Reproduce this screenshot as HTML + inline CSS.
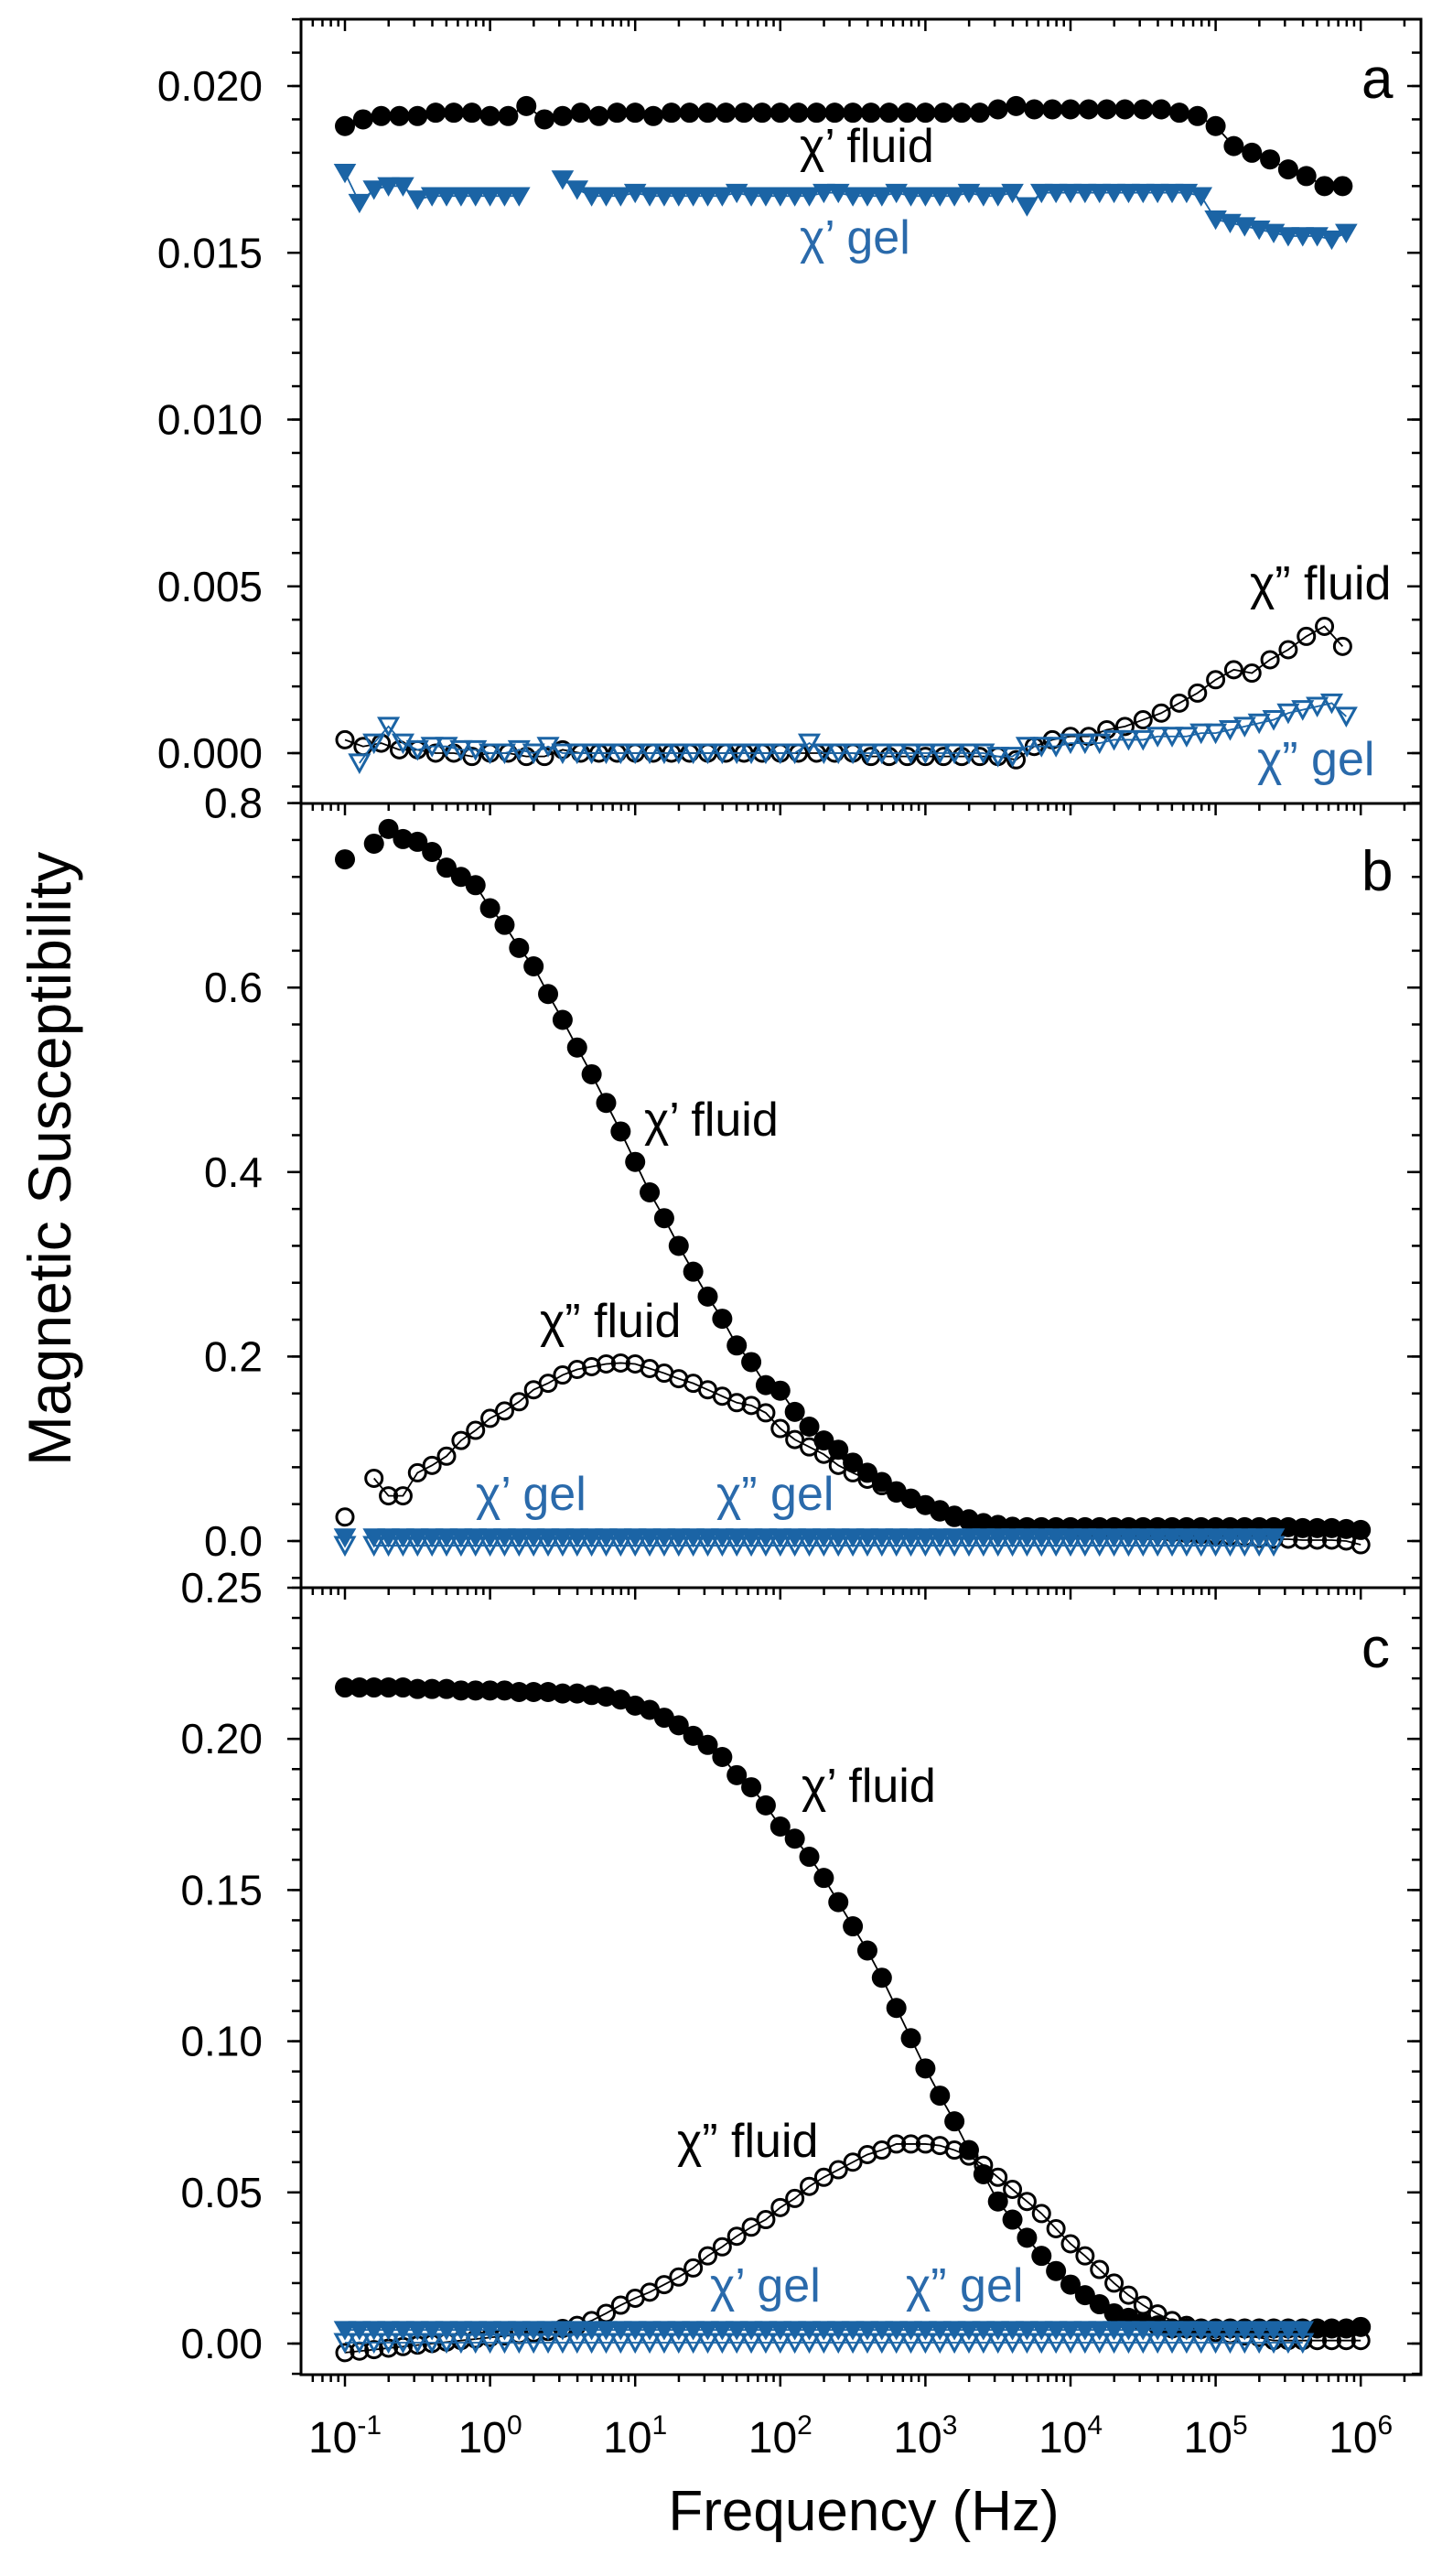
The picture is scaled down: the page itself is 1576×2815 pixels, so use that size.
<!DOCTYPE html>
<html><head><meta charset="utf-8"><style>
html,body{margin:0;padding:0;background:#fff;}
svg{display:block;font-family:"Liberation Sans",Arial,sans-serif;}
</style></head><body>
<svg id="chart" width="1576" height="2815" viewBox="0 0 1576 2815" xmlns="http://www.w3.org/2000/svg">
<rect x="0" y="0" width="1576" height="2815" fill="#fff"/>
<g id="axes"></g>
<g id="marks"></g>
<g id="labels" font-size="52">
  <text x="1488" y="107" font-size="62">a</text>
  <text x="1488" y="973" font-size="62">b</text>
  <text x="1488" y="1822" font-size="62">c</text>
  <text x="874" y="177">χ’ fluid</text>
  <text x="874" y="277" fill="#2a6aab">χ’ gel</text>
  <text x="1366" y="655">χ” fluid</text>
  <text x="1374" y="847" fill="#2a6aab">χ” gel</text>
  <text x="704" y="1241">χ’ fluid</text>
  <text x="590" y="1461">χ” fluid</text>
  <text x="520" y="1650" fill="#2a6aab">χ’ gel</text>
  <text x="783" y="1650" fill="#2a6aab">χ” gel</text>
  <text x="876" y="1969">χ’ fluid</text>
  <text x="740" y="2357">χ” fluid</text>
  <text x="776" y="2515" fill="#2a6aab">χ’ gel</text>
  <text x="990" y="2515" fill="#2a6aab">χ” gel</text>
  <text x="944" y="2765" font-size="62" text-anchor="middle">Frequency (Hz)</text>
  <text transform="translate(77,1602) rotate(-90)" font-size="66">Magnetic Susceptibility</text>
</g>
</svg>
<script>
// frequency grids (log10 Hz)
const expGrid = [-1.0,-0.9,-0.8,-0.7,-0.6,-0.5,-0.4,-0.3,-0.2,-0.1,0.0,0.1,0.2,0.3,0.4,0.5,0.6,0.7,0.8,0.9,1.0,1.1,1.2,1.3,1.4,1.5,1.6,1.7,1.8,1.9,2.0,2.1,2.2,2.3,2.4,2.5,2.6,2.7,2.8,2.9,3.0,3.1,3.2,3.3,3.4,3.5,3.6,3.7,3.8,3.9,4.0,4.1,4.2,4.3,4.4,4.5,4.6,4.7,4.8,4.9,5.0,5.1,5.2,5.3,5.4,5.5,5.6,5.7,5.8,5.9,6.0];
const expA = [-1.0,-0.875,-0.75,-0.625,-0.5,-0.375,-0.25,-0.125,0.0,0.125,0.25,0.375,0.5,0.625,0.75,0.875,1.0,1.125,1.25,1.375,1.5,1.625,1.75,1.875,2.0,2.125,2.25,2.375,2.5,2.625,2.75,2.875,3.0,3.125,3.25,3.375,3.5,3.625,3.75,3.875,4.0,4.125,4.25,4.375,4.5,4.625,4.75,4.875,5.0,5.125,5.25,5.375,5.5,5.625,5.75,5.875];

// Panel a
const aFluidP = [0.0188,0.0190,0.0191,0.0191,0.0191,0.0192,0.0192,0.0192,0.0191,0.0191,
0.0194,0.0190,0.0191,0.0192,0.0191,0.0192,0.0192,0.0191,0.0192,0.0192,
0.0192,0.0192,0.0192,0.0192,0.0192,0.0192,0.0192,0.0192,0.0192,0.0192,
0.0192,0.0192,0.0192,0.0192,0.0192,0.0192,0.0193,0.0194,0.0193,0.0193,
0.0193,0.0193,0.0193,0.0193,0.0193,0.0193,0.0192,0.0191,0.0188,0.0182,
0.0180,0.0178,0.0175,0.0173,0.0170,0.0170];
const aFluidPP = [0.0004,0.0002,0.0003,0.0001,0.0001,0.0000,0.0000,-0.0001,0.0000,0.0000,
-0.0001,-0.0001,0.0001,0.0000,0.0000,0.0000,0.0000,0.0000,0.0000,0.0000,
0.0000,0.0000,0.0000,0.0000,0.0000,0.0000,0.0000,0.0000,0.0000,-0.0001,
-0.0001,-0.0001,-0.0001,-0.0001,-0.0001,-0.0001,-0.0001,-0.0002,0.0002,0.0004,
0.0005,0.0005,0.0007,0.0008,0.0010,0.0012,0.0015,0.0018,0.0022,0.0025,
0.0024,0.0028,0.0031,0.0035,0.0038,0.0032];
const aGelP = [0.0174,0.0165,0.0169,0.0170,0.0170,0.0166,0.0167,0.0167,0.0167,0.0167,
0.0167,0.0167,0.0167,null,null,0.0172,0.0169,0.0167,0.0167,0.0167,
0.0168,0.0167,0.0167,0.0167,0.0167,0.0167,0.0167,0.0168,0.0167,0.0167,
0.0167,0.0167,0.0167,0.0168,0.0168,0.0167,0.0167,0.0167,0.0168,0.0167,
0.0167,0.0167,0.0167,0.0168,0.0167,0.0167,0.0168,0.0164,0.0168,0.0168,
0.0168,0.0168,0.0168,0.0168,0.0168,0.0168,0.0168,0.0168,0.0168,0.0167,
0.0160,0.0159,0.0158,0.0157,0.0156,0.0155,0.0155,0.0155,0.0154,0.0156,null];
const aGelPP = [null,-0.0003,0.0003,0.0008,0.0003,0.0001,0.0002,0.0002,0.0001,0.0001,
0.0000,0.0000,0.0001,0.0000,0.0002,0.0000,0.0000,0.0000,0.0000,0.0000,
0.0000,0.0000,0.0000,0.0000,0.0000,0.0000,0.0000,0.0000,0.0000,0.0000,
0.0000,0.0000,0.0003,0.0000,0.0000,0.0000,0.0000,0.0000,0.0000,0.0000,
0.0000,0.0000,0.0000,0.0000,0.0000,-0.0001,-0.0001,0.0002,0.0002,0.0002,
0.0003,0.0003,0.0003,0.0004,0.0004,0.0004,0.0005,0.0005,0.0005,0.0006,
0.0006,0.0007,0.0008,0.0009,0.0010,0.0012,0.0013,0.0014,0.0015,0.0011,null];

// Panel b
const bFluidP = [0.739,null,0.756,0.772,0.761,0.758,0.747,0.730,0.720,0.711,
0.686,0.668,0.643,0.623,0.593,0.565,0.535,0.506,0.475,0.444,
0.411,0.378,0.350,0.320,0.292,0.265,0.241,0.212,0.194,0.169,
0.163,0.140,0.124,0.109,0.099,0.085,0.074,0.064,0.054,0.046,
0.039,0.032,0.026,0.022,0.018,0.016,0.015,0.015,0.015,0.015,
0.015,0.015,0.015,0.015,0.015,0.015,0.015,0.015,0.015,0.015,
0.015,0.015,0.015,0.015,0.015,0.015,0.014,0.014,0.014,0.013,0.012];
const bFluidPP = [0.026,null,0.068,0.049,0.049,0.074,0.082,0.092,0.109,0.120,
0.133,0.141,0.151,0.164,0.171,0.180,0.186,0.189,0.192,0.193,
0.192,0.187,0.182,0.176,0.171,0.164,0.157,0.150,0.147,0.139,
0.122,0.110,0.102,0.094,0.082,0.074,0.067,0.060,0.052,0.046,
0.039,0.034,0.028,0.024,0.020,0.018,0.016,0.015,0.014,0.013,
0.013,0.012,0.012,0.011,0.011,0.010,0.010,0.009,0.008,0.007,
0.006,0.005,0.004,0.003,0.002,0.002,0.001,0.001,0.001,0.000,-0.004];
const bGelP = [0.004,null,0.004,0.004,0.004,0.004,0.004,0.004,0.004,0.004,
0.004,0.004,0.004,0.004,0.004,0.004,0.004,0.004,0.004,0.004,
0.004,0.004,0.004,0.004,0.004,0.004,0.004,0.004,0.004,0.004,
0.004,0.004,0.004,0.004,0.004,0.004,0.004,0.004,0.004,0.004,
0.004,0.004,0.004,0.004,0.004,0.004,0.004,0.004,0.004,0.004,
0.004,0.004,0.004,0.004,0.004,0.004,0.004,0.004,0.004,0.004,
0.004,0.004,0.004,0.004,0.004,null,null,null,null,null,null];
const bGelPP = [-0.005,null,-0.005,-0.005,-0.005,-0.005,-0.005,-0.005,-0.005,-0.005,
-0.005,-0.005,-0.005,-0.005,-0.005,-0.005,-0.005,-0.005,-0.005,-0.005,
-0.005,-0.005,-0.005,-0.005,-0.005,-0.005,-0.005,-0.005,-0.005,-0.005,
-0.005,-0.005,-0.005,-0.005,-0.005,-0.005,-0.005,-0.005,-0.005,-0.005,
-0.005,-0.005,-0.005,-0.005,-0.005,-0.005,-0.005,-0.005,-0.005,-0.005,
-0.005,-0.005,-0.005,-0.005,-0.005,-0.005,-0.005,-0.005,-0.005,-0.005,
-0.005,-0.005,-0.005,-0.005,-0.005,null,null,null,null,null,null];

// Panel c
const cFluidP = [0.217,0.217,0.217,0.217,0.217,0.2165,0.2165,0.2165,0.216,0.216,
0.216,0.216,0.2155,0.2155,0.2155,0.215,0.215,0.2145,0.214,0.213,
0.211,0.2096,0.207,0.2045,0.201,0.198,0.194,0.188,0.184,0.178,
0.171,0.167,0.161,0.154,0.146,0.138,0.130,0.121,0.111,0.101,
0.091,0.082,0.0735,0.064,0.056,0.047,0.041,0.035,0.029,0.024,
0.0195,0.016,0.013,0.010,0.0085,0.007,0.006,0.005,0.005,0.005,
0.005,0.005,0.005,0.005,0.005,0.005,0.005,0.005,0.005,0.005,0.0055];
const cFluidPP = [-0.003,-0.0025,-0.002,-0.0015,-0.001,-0.0005,0.0,0.0005,0.001,0.0015,
0.002,0.0025,0.003,0.0035,0.004,0.005,0.006,0.0076,0.010,0.0127,
0.015,0.017,0.0195,0.022,0.025,0.029,0.032,0.0355,0.0385,0.041,
0.045,0.048,0.052,0.055,0.0575,0.060,0.0625,0.064,0.066,0.066,
0.066,0.0655,0.064,0.062,0.059,0.055,0.051,0.047,0.043,0.038,
0.033,0.029,0.0245,0.020,0.016,0.0127,0.0098,0.0076,0.006,0.0047,
0.0037,0.003,0.0025,0.002,0.001,0.001,0.001,0.001,0.001,0.001,0.001];
const cGelP = [0.0045,0.0045,0.0045,0.0045,0.0045,0.0045,0.0045,0.0045,0.0045,0.0045,
0.0045,0.0045,0.0045,0.0045,0.0045,0.0045,0.0045,0.0045,0.0045,0.0045,
0.0045,0.0045,0.0045,0.0045,0.0045,0.0045,0.0045,0.0045,0.0045,0.0045,
0.0045,0.0045,0.0045,0.0045,0.0045,0.0045,0.0045,0.0045,0.0045,0.0045,
0.0045,0.0045,0.0045,0.0045,0.0045,0.0045,0.0045,0.0045,0.0045,0.0045,
0.0045,0.0045,0.0045,0.0045,0.0045,0.0045,0.0045,0.0045,0.0045,0.0045,
0.0045,0.0045,0.0045,0.0045,0.0045,0.0045,0.0045,null,null,null,null];
const cGelPP = [0.0003,0.0003,0.0003,0.0003,0.0003,0.0003,0.0003,0.0003,0.0003,0.0003,
0.0003,0.0003,0.0003,0.0003,0.0003,0.0003,0.0003,0.0003,0.0003,0.0003,
0.0003,0.0003,0.0003,0.0003,0.0003,0.0003,0.0003,0.0003,0.0003,0.0003,
0.0003,0.0003,0.0003,0.0003,0.0003,0.0003,0.0003,0.0003,0.0003,0.0003,
0.0003,0.0003,0.0003,0.0003,0.0003,0.0003,0.0003,0.0003,0.0003,0.0003,
0.0003,0.0003,0.0003,0.0003,0.0003,0.0003,0.0003,0.0003,0.0003,0.0003,
0.0003,0.0003,0.0003,0.0003,0.0003,0.0003,0.0003,null,null,null,null];

// tick labels
const aTicks = [0.000,0.005,0.010,0.015,0.020];
const aTickLabels = ["0.000","0.005","0.010","0.015","0.020"];
const bTicks = [0.0,0.2,0.4,0.6,0.8];
const bTickLabels = ["0.0","0.2","0.4","0.6","0.8"];
const cTicks = [0.00,0.05,0.10,0.15,0.20,0.25];
const cTickLabels = ["0.00","0.05","0.10","0.15","0.20","0.25"];
const xDecades = [-1,0,1,2,3,4,5,6];
const xDecadeLabels = ["-1","0","1","2","3","4","5","6"];

const NS = "http://www.w3.org/2000/svg";
const BLUE = "#1b64a5";
const XL = 329, XR = 1553;
function xScale(e){ return 377 + (e + 1) * 158.6; }
const panels = [
  {id:"a", top:21, bot:878, y0:823, k:36450, ticks:aTicks, labels:aTickLabels, minor:0.001, minLo:-0.001, minHi:0.022},
  {id:"b", top:878, bot:1735, y0:1684, k:1008, ticks:bTicks, labels:bTickLabels, minor:0.04, minLo:-0.04, minHi:0.8},
  {id:"c", top:1735, bot:2595, y0:2561, k:3304, ticks:cTicks, labels:cTickLabels, minor:0.01, minLo:-0.01, minHi:0.25}
];
function yScale(p, v){ return p.y0 - v * p.k; }
function mk(tag, attrs, parent){ const el = document.createElementNS(NS, tag); for (const a in attrs) el.setAttribute(a, attrs[a]); parent.appendChild(el); return el; }

const axes = document.getElementById("axes");
const marks = document.getElementById("marks");

panels.forEach(p => {
  const frame = mk("rect", {x:XL, y:p.top, width:XR-XL, height:p.bot-p.top, fill:"none", stroke:"#000", "stroke-width":3}, axes);
  
  
  const n = Math.round((p.minHi - p.minLo) / p.minor);
  for (let i = 0; i <= n; i++) {
    const v = p.minLo + i * p.minor;
    const y = yScale(p, v);
    if (y < p.top - 0.5 || y > p.bot + 0.5) continue;
    mk("line", {x1:XL-10, x2:XL, y1:y, y2:y, stroke:"#000", "stroke-width":2.5}, axes);
    mk("line", {x1:XR-10, x2:XR, y1:y, y2:y, stroke:"#000", "stroke-width":2.5}, axes);
  }
  p.ticks.forEach((v, i) => {
    const y = yScale(p, v);
    mk("line", {x1:XL-15, x2:XL, y1:y, y2:y, stroke:"#000", "stroke-width":2.5}, axes);
    mk("line", {x1:XR-15, x2:XR, y1:y, y2:y, stroke:"#000", "stroke-width":2.5}, axes);
    const t = mk("text", {x:287, y:y+16, "text-anchor":"end", "font-size":46}, axes);
    t.textContent = p.labels[i];
    
    
  });
  drawXTicks(p.top);
});
drawXTicks(2595);
function drawXTicks(yy){
  for (let d = -2; d <= 6; d++) {
    for (let m = 1; m <= 9; m++) {
      const x = xScale(d + Math.log10(m));
      if (x < XL + 2 || x > XR - 2) continue;
      const len = m === 1 ? 13 : 8;
      mk("line", {x1:x, x2:x, y1:yy, y2:yy+len, stroke:"#000", "stroke-width":2.5}, axes);
    }
  }
}
xDecades.forEach((d, i) => {
  const x = xScale(d);
  const t = mk("text", {x:x, y:2680, "text-anchor":"middle", "font-size":48}, axes);
  
  
  const s1 = mk("tspan", {}, t); s1.textContent = "10";
  const s2 = mk("tspan", {dy:-20, "font-size":30}, t); s2.textContent = xDecadeLabels[i];
});

function drawSeries(p, exps, vals, kind, name){
  const color = kind.indexOf("tri") === 0 ? BLUE : "#000";
  const g = mk("g", {}, marks);
  
  
  let seg = [];
  const segs = [];
  vals.forEach((v, i) => {
    if (v === null) { if (seg.length) segs.push(seg); seg = []; return; }
    seg.push([xScale(exps[i]), yScale(p, v)]);
  });
  if (seg.length) segs.push(seg);
  segs.forEach(s => { if (s.length > 1) mk("polyline", {points:s.map(q => q.join(",")).join(" "), fill:"none", stroke:color, "stroke-width":1.8}, g); });
  vals.forEach((v, i) => {
    if (v === null) return;
    const x = xScale(exps[i]), y = yScale(p, v);
    let el;
    if (kind === "dot") el = mk("circle", {cx:x, cy:y, r:11, fill:"#000"}, g);
    else if (kind === "ring") el = mk("circle", {cx:x, cy:y, r:9, fill:"none", stroke:"#000", "stroke-width":3}, g);
    else if (kind === "triFill") el = mk("polygon", {points:`${x-11},${y-9} ${x+11},${y-9} ${x},${y+10}`, fill:BLUE, stroke:BLUE, "stroke-width":1.5}, g);
    else el = mk("polygon", {points:`${x-10},${y-9} ${x+10},${y-9} ${x},${y+9}`, fill:"none", stroke:BLUE, "stroke-width":3}, g);
    
    
  });
}
const [pa, pb, pc] = panels;
drawSeries(pa, expA, aFluidP, "dot", "a-chi-prime-fluid");
drawSeries(pa, expA, aFluidPP, "ring", "a-chi-double-prime-fluid");
drawSeries(pa, expGrid, aGelP, "triFill", "a-chi-prime-gel");
drawSeries(pa, expGrid, aGelPP, "triOpen", "a-chi-double-prime-gel");
drawSeries(pb, expGrid, bFluidP, "dot", "b-chi-prime-fluid");
drawSeries(pb, expGrid, bFluidPP, "ring", "b-chi-double-prime-fluid");
drawSeries(pb, expGrid, bGelP, "triFill", "b-chi-prime-gel");
drawSeries(pb, expGrid, bGelPP, "triOpen", "b-chi-double-prime-gel");
drawSeries(pc, expGrid, cFluidP, "dot", "c-chi-prime-fluid");
drawSeries(pc, expGrid, cFluidPP, "ring", "c-chi-double-prime-fluid");
drawSeries(pc, expGrid, cGelP, "triFill", "c-chi-prime-gel");
drawSeries(pc, expGrid, cGelPP, "triOpen", "c-chi-double-prime-gel");
</script>
</body></html>
